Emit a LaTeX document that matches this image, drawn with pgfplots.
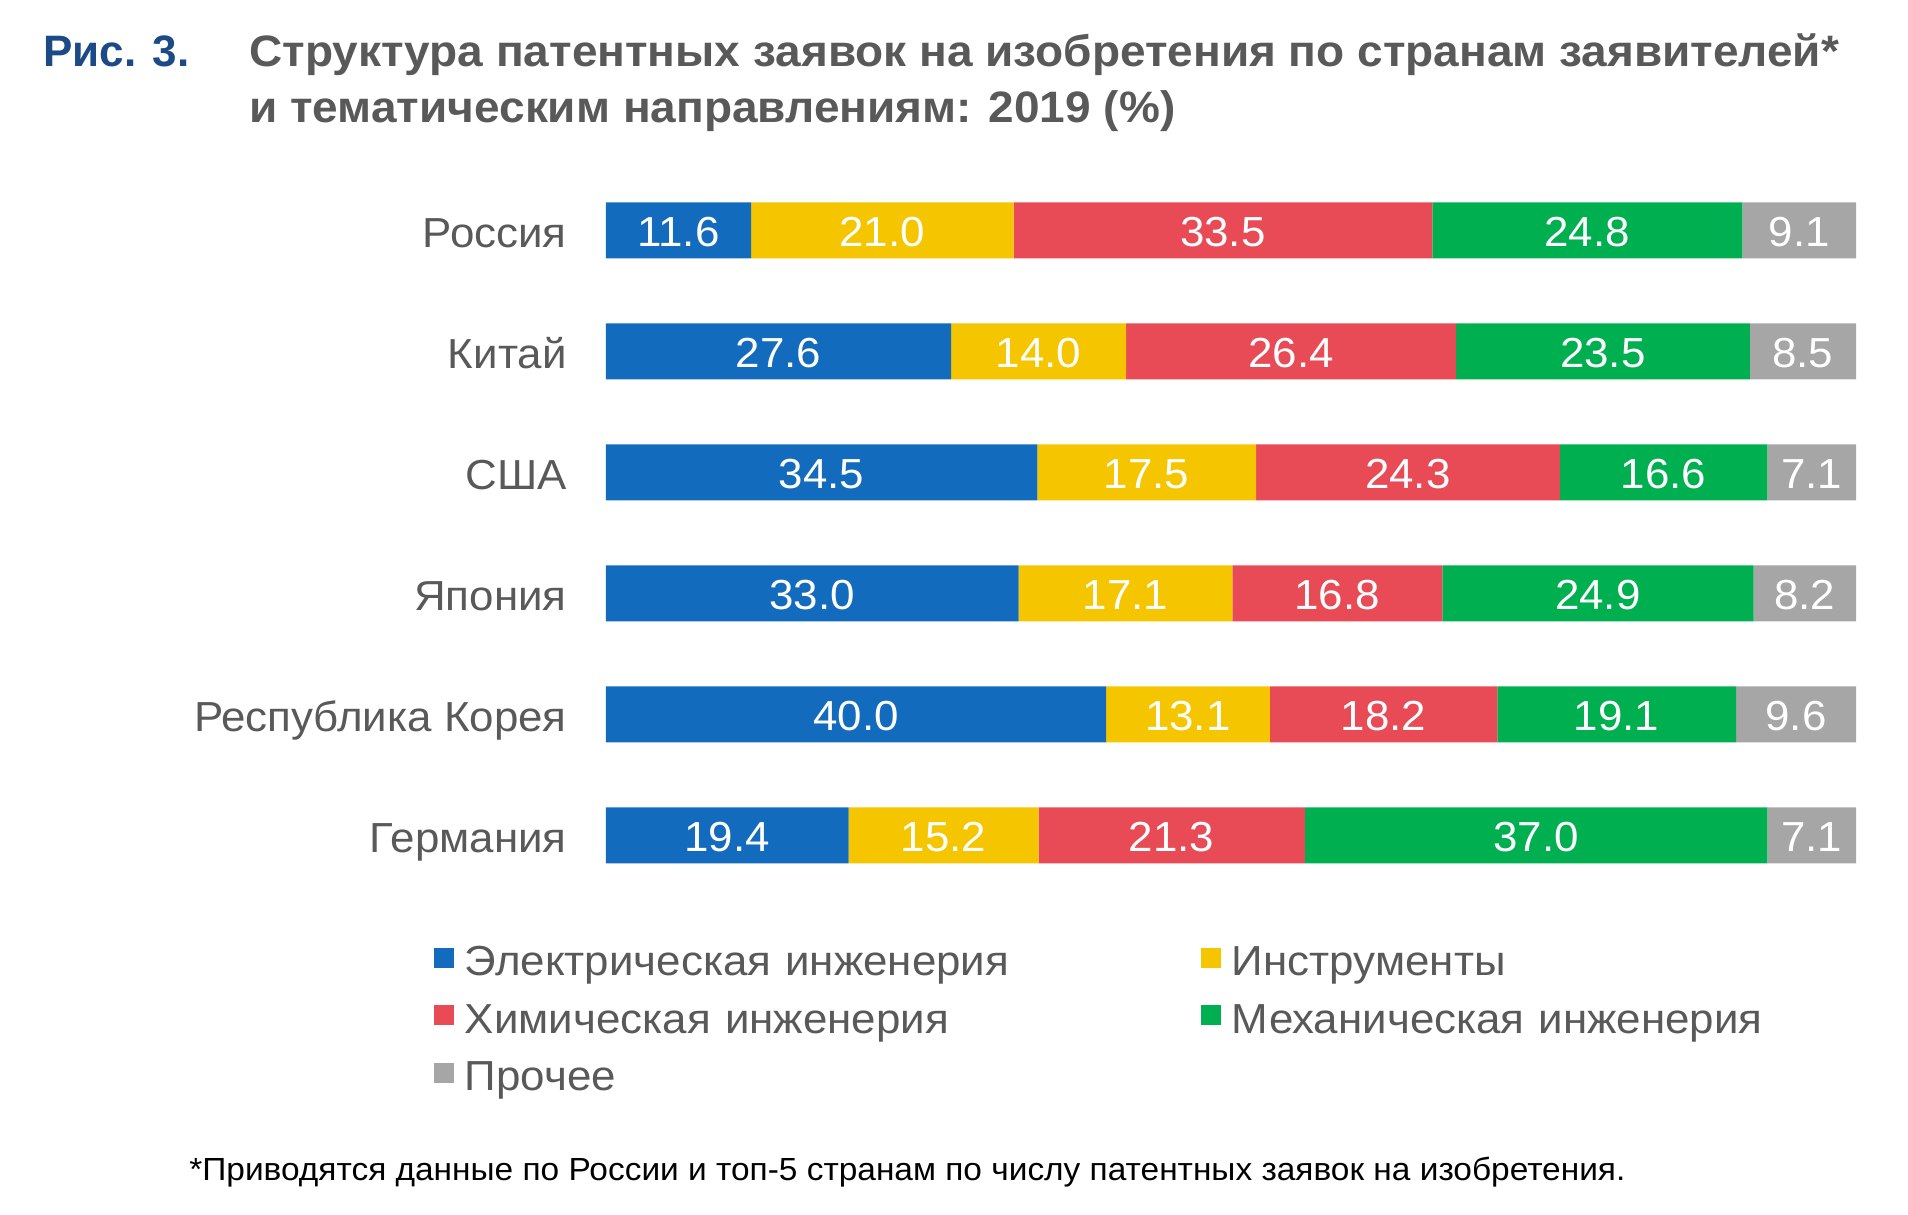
\documentclass[border=0pt]{standalone}
\usepackage{fontspec}
\setmainfont[FakeStretch=1.045]{Liberation Sans}
\newfontfamily\plainsans{Liberation Sans}
\usepackage{pgfplots}
\pgfplotsset{compat=1.18}
\definecolor{cblue}{HTML}{136BBE}
\definecolor{cyellow}{HTML}{F5C500}
\definecolor{cred}{HTML}{E84B55}
\definecolor{cgreen}{HTML}{00B050}
\definecolor{cgray}{HTML}{A6A6A6}
\definecolor{tgray}{HTML}{595959}
\definecolor{tblue}{HTML}{1B4A87}
\begin{document}
\begin{tikzpicture}[x=1pt,y=1pt]
\useasboundingbox (0,0) rectangle (954,607.5);
\node[anchor=base west, inner sep=0, font=\plainsans\fontsize{22}{26}\selectfont\bfseries, text=tblue] at (21.5,574.2) {Рис. 3.};
\node[anchor=base west, inner sep=0, font=\fontsize{22}{26}\selectfont\bfseries, text=tgray] at (124.5,574.2) {Структура патентных заявок на изобретения по странам заявителей*};
\node[anchor=base west, inner sep=0, font=\fontsize{22}{26}\selectfont\bfseries, text=tgray] at (124.5,546.2) {и тематическим направлениям: 2019 (\%)};
\node[anchor=base west, inner sep=0, font=\fontsize{16}{19}\selectfont, text=black] at (94.5,17.3) {*Приводятся данные по России и топ-5 странам по числу патентных заявок на изобретения.};
\begin{axis}[
  at={(303pt,159.6pt)}, anchor=south west,
  scale only axis, width=625pt, height=363pt,
  xbar stacked, bar width=28pt,
  xmin=0, xmax=100, ymin=-0.5, ymax=5.5, y dir=reverse,
  axis line style={draw=none}, tick style={draw=none},
  major tick length=0pt,
  xtick=\empty, ytick={0,1,2,3,4,5},
  yticklabels={Россия,Китай,США,Япония,Республика Корея,Германия},
  yticklabel style={font=\fontsize{21}{25}\selectfont, text=tgray, anchor=base east, inner sep=0pt, xshift=-19.5pt, yshift=-8.5pt},
  legend columns=2,
  legend cell align=left,
  legend image code/.code={\fill[#1] (0pt,-1pt) rectangle (10pt,9pt);},
  legend style={at={(axis description cs:-0.1376,-0.0691)}, anchor=north west,
    draw=none, fill=none, inner sep=0pt, outer sep=0pt, row sep=8.75pt,
    font=\fontsize{21}{25}\selectfont, text=tgray,
    nodes={inner sep=0pt, text width=340pt, text height=15pt, text depth=5pt, align=left},
    /tikz/every odd column/.append style={column sep=5.5pt},
    /tikz/every even column/.append style={column sep=28pt}},
]
\addplot[fill=cblue, draw=none] coordinates {(11.6,0) (27.6,1) (34.5,2) (33.0,3) (40.0,4) (19.4,5)};
\addplot[fill=cyellow, draw=none] coordinates {(21.0,0) (14.0,1) (17.5,2) (17.1,3) (13.1,4) (15.2,5)};
\addplot[fill=cred, draw=none] coordinates {(33.5,0) (26.4,1) (24.3,2) (16.8,3) (18.2,4) (21.3,5)};
\addplot[fill=cgreen, draw=none] coordinates {(24.8,0) (23.5,1) (16.6,2) (24.9,3) (19.1,4) (37.0,5)};
\addplot[fill=cgray, draw=none] coordinates {(9.1,0) (8.5,1) (7.1,2) (8.2,3) (9.6,4) (7.1,5)};
\legend{Электрическая инженерия, Инструменты, Химическая инженерия, Механическая инженерия, Прочее}
\end{axis}
\begin{axis}[
  at={(303pt,159.6pt)}, anchor=south west,
  scale only axis, width=625pt, height=363pt,
  xmin=0, xmax=100, ymin=-0.5, ymax=5.5, y dir=reverse,
  hide axis,
]
\addplot[draw=none, mark=none, nodes near coords, point meta=explicit symbolic,
  every node near coord/.append style={text=white, anchor=center, inner sep=0pt, yshift=-1pt, font=\fontsize{21}{25}\selectfont}]
  table[meta=l] {
x y l
5.8 0 11.6
22.1 0 21.0
49.35 0 33.5
78.5 0 24.8
95.45 0 9.1
13.8 1 27.6
34.6 1 14.0
54.8 1 26.4
79.75 1 23.5
95.75 1 8.5
17.25 2 34.5
43.25 2 17.5
64.15 2 24.3
84.6 2 16.6
96.45 2 7.1
16.5 3 33.0
41.55 3 17.1
58.5 3 16.8
79.35 3 24.9
95.9 3 8.2
20.0 4 40.0
46.55 4 13.1
62.2 4 18.2
80.85 4 19.1
95.2 4 9.6
9.7 5 19.4
27.0 5 15.2
45.25 5 21.3
74.4 5 37.0
96.45 5 7.1
};
\end{axis}
\end{tikzpicture}
\end{document}
